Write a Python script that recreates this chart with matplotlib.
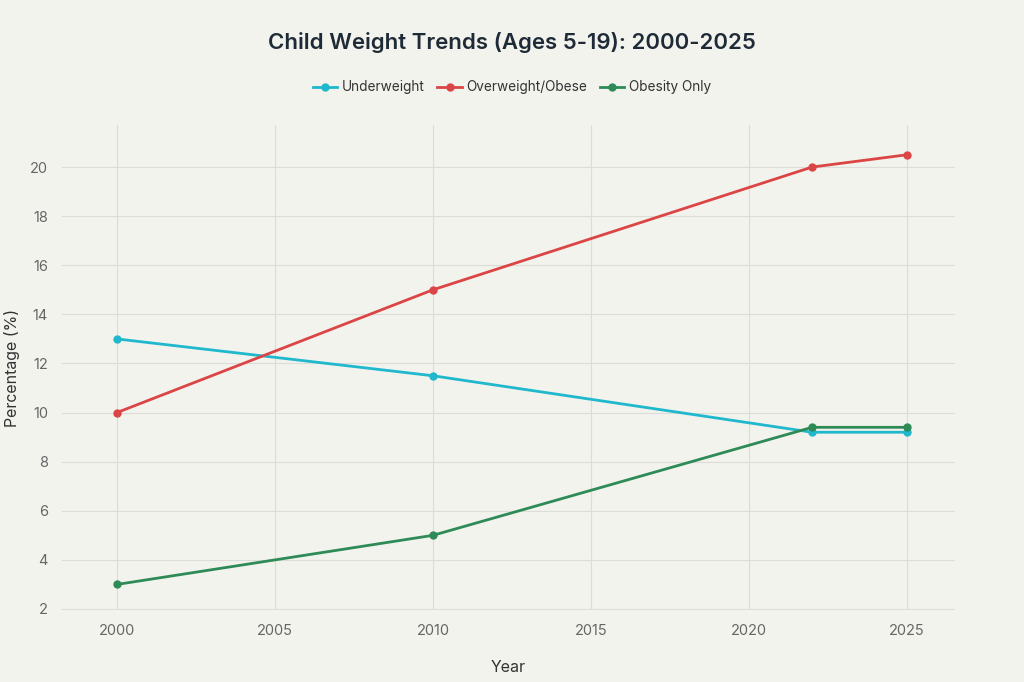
import matplotlib.pyplot as plt

years = [2000, 2010, 2022, 2025]
underweight = [13.0, 11.5, 9.2, 9.2]
overweight_obese = [10.0, 15.0, 20.0, 20.5]
obesity_only = [3.0, 5.0, 9.4, 9.4]

series_names = ['Underweight', 'Overweight/Obese', 'Obesity Only']
series_colors = ['#1FB8CD', '#DB4545', '#2E8B57']

plt.rcParams['font.family'] = ['Inter', 'DejaVu Sans']

bg = '#F3F3EE'
fig = plt.figure(figsize=(10.24, 6.82), dpi=100, facecolor=bg)
ax = fig.add_axes([0.0605, 0.1056, 0.872, 0.711], facecolor=bg)

for vals, name, col in zip([underweight, overweight_obese, obesity_only], series_names, series_colors):
  ax.plot(years, vals, color=col, linewidth=2, marker='o', markersize=5, label=name)

ax.set_xlim(1998.26, 2026.52)
ax.set_ylim(1.96, 21.71)
ax.set_xticks([2000, 2005, 2010, 2015, 2020, 2025])
ax.set_yticks(range(2, 21, 2))

# light grid, no spines
ax.grid(True, color='#DCDCD8', linewidth=0.8)
ax.set_axisbelow(True)
for s in ax.spines.values():
  s.set_visible(False)
ax.tick_params(length=0, labelsize=10.5, labelcolor='#666666', pad=10)

ax.set_xlabel('Year', fontsize=11.5, color='#333333', labelpad=16)
ax.set_ylabel('Percentage (%)', fontsize=11.5, color='#333333')
ax.yaxis.set_label_coords(-0.047, 0.5)

fig.text(0.5, 0.938, 'Child Weight Trends (Ages 5-19): 2000-2025', ha='center', va='center',
         fontsize=16, fontweight='semibold', color='#1E2B37')

fig.legend(loc='center', bbox_to_anchor=(0.5, 0.872), ncol=3, frameon=False, fontsize=9.8,
           handlelength=1.8, handletextpad=0.35, columnspacing=0.9, labelcolor='#333333')

fig.savefig('out.png', dpi=100, facecolor=bg)
